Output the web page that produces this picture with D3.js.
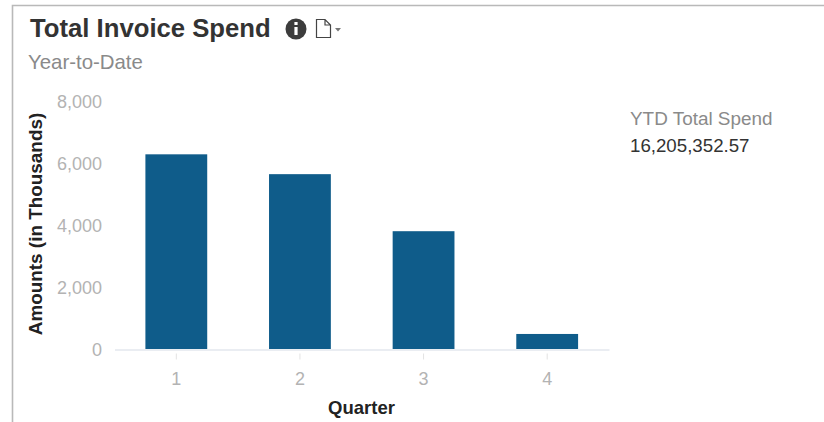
<!DOCTYPE html>
<html><head><meta charset="utf-8">
<script src="https://cdn.jsdelivr.net/npm/d3@7/dist/d3.min.js"></script>
<style>html,body{margin:0;padding:0;background:#fff}svg{display:block}text{font-family:"Liberation Sans",Arial,sans-serif}</style>
</head><body><div id="c"></div>
<script>
const quarters = ["1","2","3","4"];
const amounts = [6280,5640,3800,485];
const yTicks = [0,2000,4000,6000,8000];
const title = "Total Invoice Spend";
const subtitle = "Year-to-Date";
const xTitle = "Quarter";
const yTitle = "Amounts (in Thousands)";
const kpiLabel = "YTD Total Spend";
const kpiValue = "16,205,352.57";

const svg = d3.select("#c").append("svg").attr("width",824).attr("height",422);
svg.append("rect").attr("width",824).attr("height",422).attr("fill","#fff");
svg.append("path").attr("d","M12.5,422V5.5H824").attr("fill","none").attr("stroke","#b9b9b9").attr("stroke-width",1.6);

const x = d3.scaleBand().domain(quarters).range([114.5,609]).paddingInner(0.5).paddingOuter(0.25);
const y = d3.scaleLinear().domain([0,8000]).range([349,101]);

const fmt = d3.format(",");
const gy = svg.append("g").attr("transform","translate(102,0)")
  .call(d3.axisLeft(y).tickValues(yTicks).tickFormat(fmt).tickSize(0).tickPadding(0));
gy.select(".domain").remove();
gy.selectAll("text").attr("font-size",18).attr("fill","#b3b3b3").style("font-family",'"Liberation Sans",Arial,sans-serif').attr("dy","0.36em");

svg.selectAll("rect.bar").data(amounts).join("rect").attr("class","bar")
  .attr("x",(d,i)=>x(quarters[i])).attr("width",x.bandwidth())
  .attr("y",d=>y(d)).attr("height",d=>y(0)-y(d)).attr("fill","#0f5c8a");

const gx = svg.append("g").attr("transform","translate(0,349.5)")
  .call(d3.axisBottom(x).tickSize(0).tickPadding(0));
gx.select(".domain").attr("stroke","#e3e7ee").attr("stroke-width",1.5);
gx.selectAll(".tick line").attr("y1",4).attr("y2",10).attr("stroke","#e3e3e3");
gx.selectAll("text").attr("y",35).attr("dy",0).attr("font-size",18).attr("fill","#b3b3b3").style("font-family",'"Liberation Sans",Arial,sans-serif');

svg.append("text").attr("x",30).attr("y",37).attr("font-size",25.7).attr("font-weight",700).attr("fill","#333").text(title);
svg.append("text").attr("x",28).attr("y",69).attr("font-size",20.4).attr("fill","#8a8a8a").text(subtitle);
svg.append("text").attr("x",361.5).attr("y",414).attr("text-anchor","middle").attr("font-size",18.5).attr("font-weight",700).attr("fill","#222").text(xTitle);
svg.append("text").attr("transform","translate(42,224) rotate(-90)").attr("text-anchor","middle").attr("font-size",18.9).attr("font-weight",700).attr("fill","#222").text(yTitle);
svg.append("text").attr("x",630).attr("y",125).attr("font-size",18.9).attr("fill","#8a8a8a").text(kpiLabel);
svg.append("text").attr("x",630).attr("y",152).attr("font-size",18.7).attr("fill","#333").text(kpiValue);

// info icon
svg.append("circle").attr("cx",296).attr("cy",29).attr("r",10.5).attr("fill","#3c3c3c");
svg.append("rect").attr("x",294.4).attr("y",22).attr("width",3.2).attr("height",3).attr("fill","#fff");
svg.append("rect").attr("x",294.4).attr("y",27).attr("width",3.2).attr("height",8).attr("fill","#fff");
// document icon
svg.append("path").attr("d","M316.5,19.5H325L330.5,25V37.5H316.5Z M325,19.5V25H330.5").attr("fill","#fff").attr("stroke","#444").attr("stroke-width",1.2);
svg.append("path").attr("d","M335,28H341L338,31.5Z").attr("fill","#777");
</script></body></html>
